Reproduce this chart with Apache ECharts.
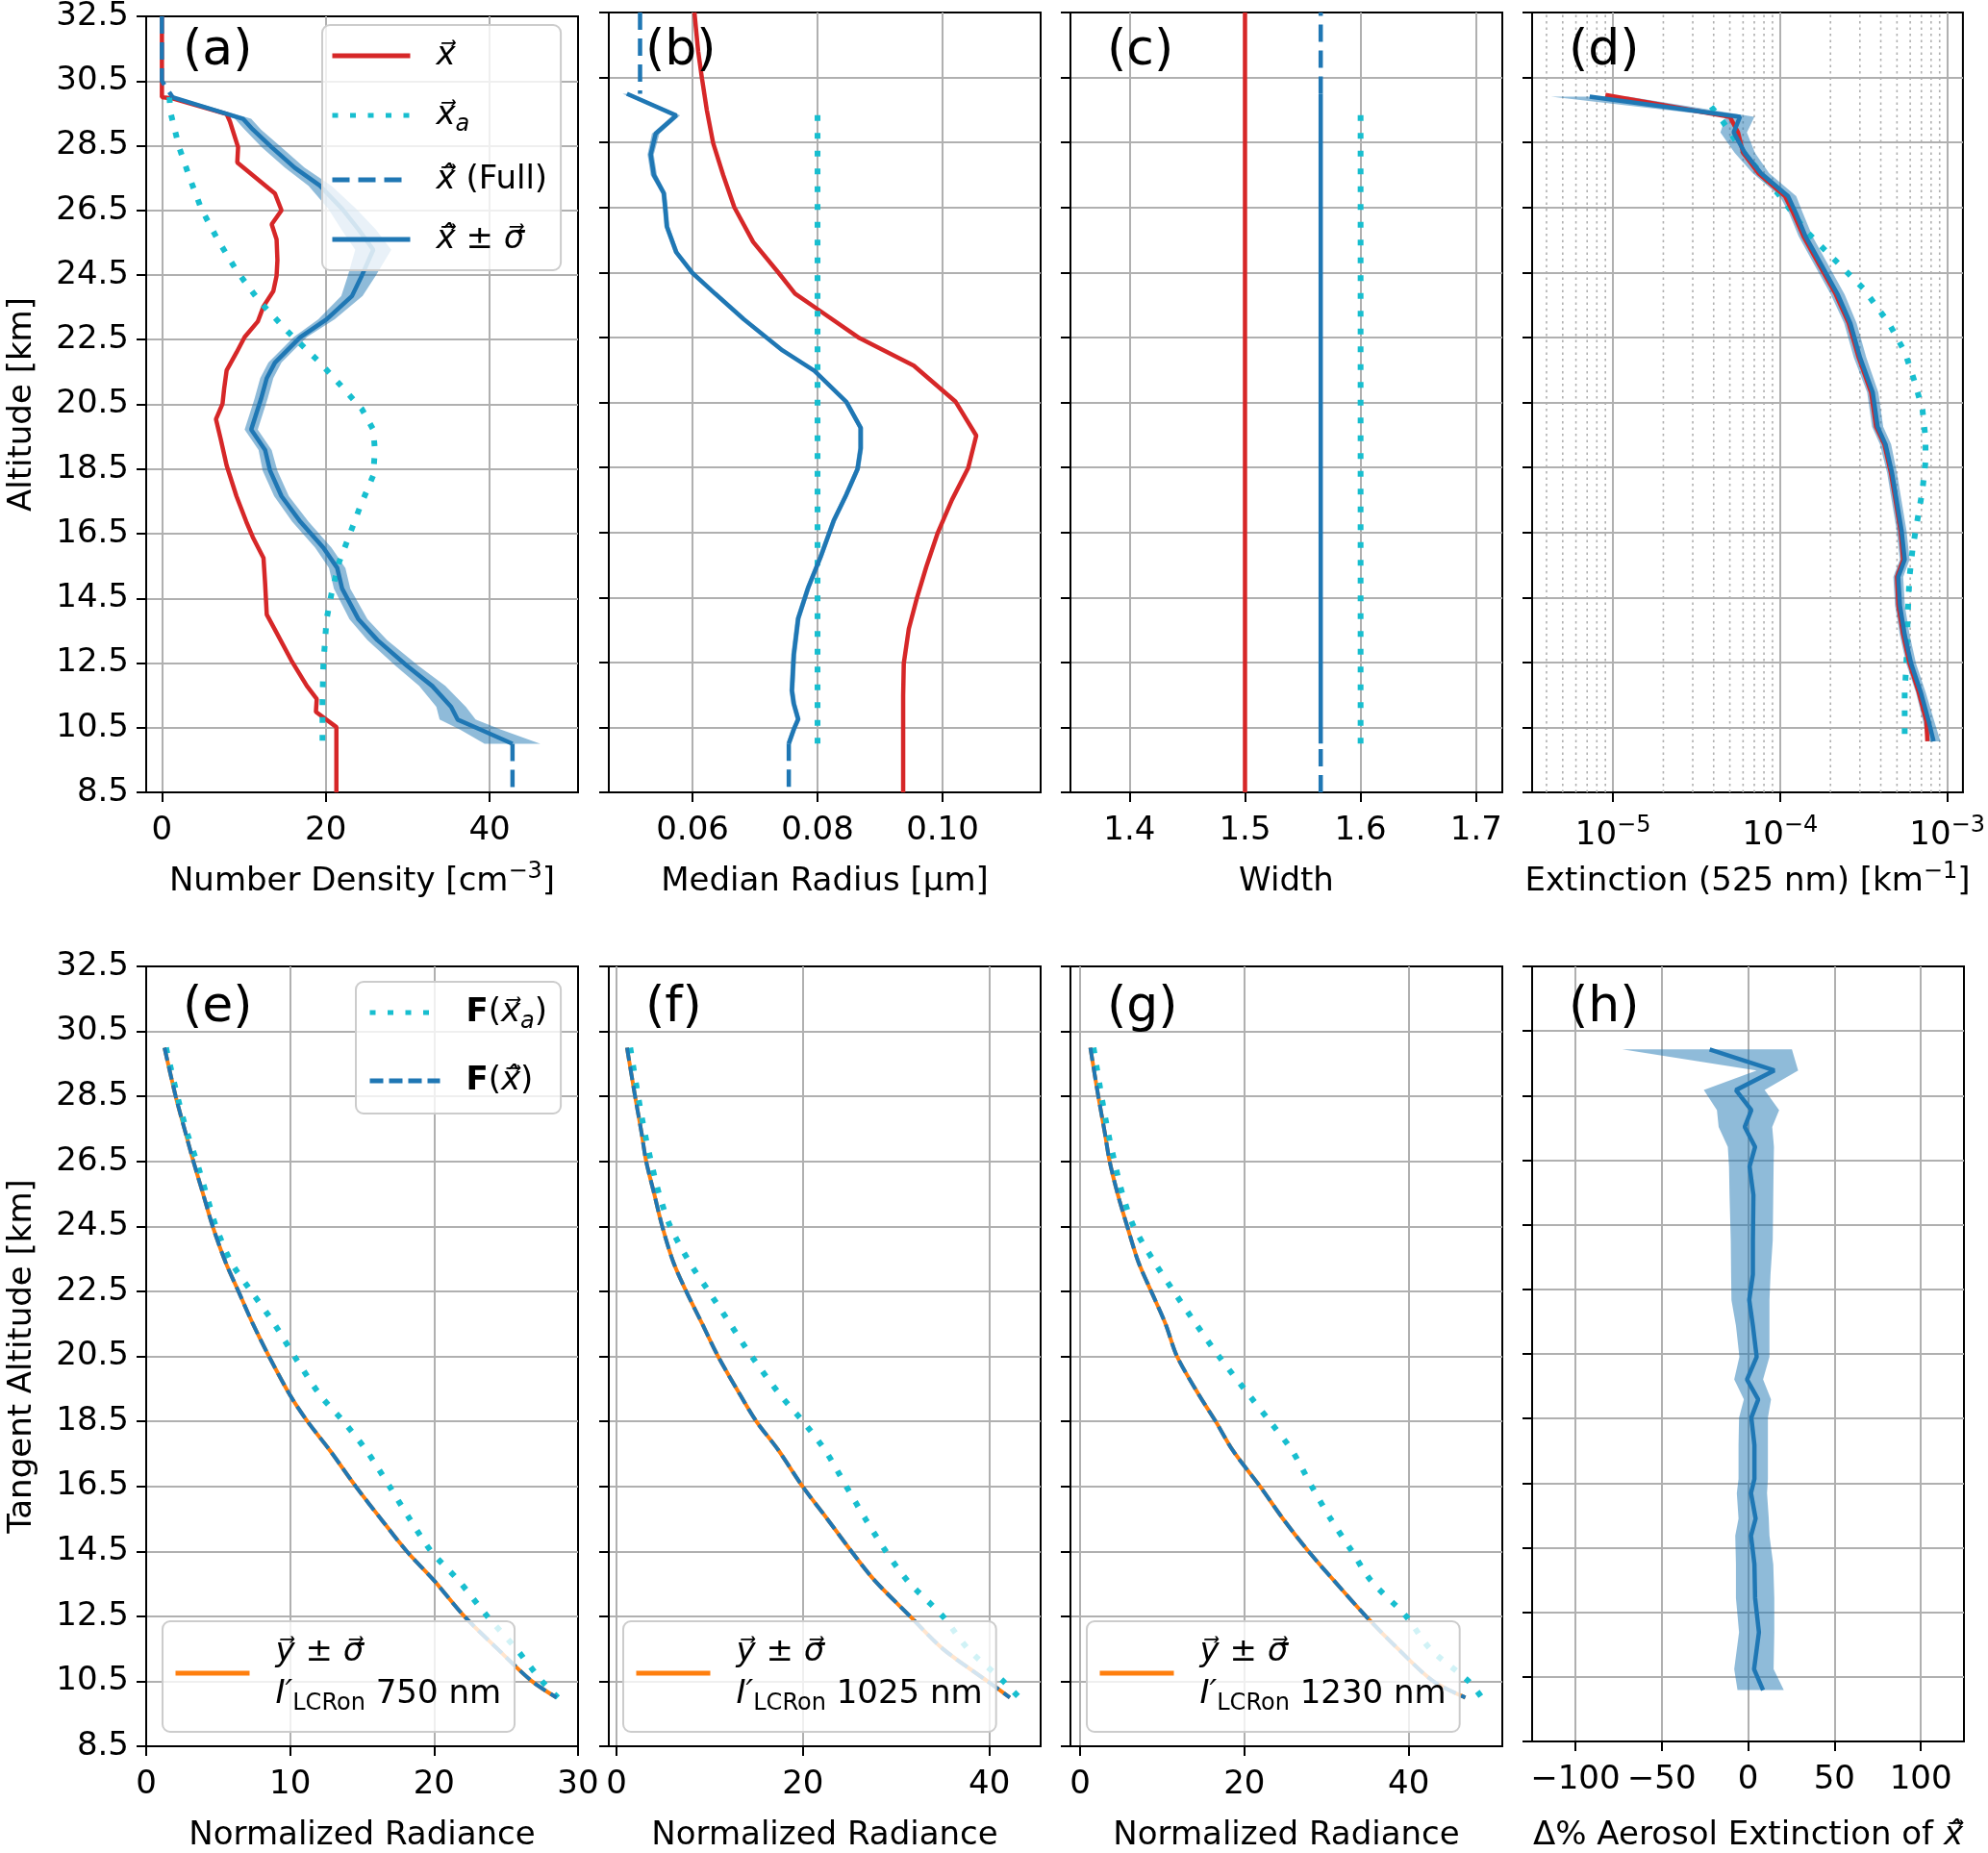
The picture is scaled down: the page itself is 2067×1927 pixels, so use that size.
<!DOCTYPE html>
<html><head><meta charset="utf-8">
<script src="https://cdn.jsdelivr.net/npm/echarts@6/dist/echarts.min.js"></script>
<style>html,body{margin:0;padding:0;background:#fff}#c{width:2067px;height:1927px}</style>
</head><body><div id="c"></div>
<script>
// ===================== DATA =====================
// Panel (a) number density [cm^-3]
const ndTrueAlt = [32.5,30.0,29.96,29.48,29.25,28.45,27.98,27.02,26.5,26.07,25.6,24.96,24.48,24.0,23.53,23.06,22.58,22.1,21.55,20.99,20.52,20.04,19.4,18.61,17.66,16.87,16.39,15.75,14.96,14.0,13.53,12.58,11.79,11.39,10.99,10.52,8.5];
const ndTrue    = [0,0,1.3,7.9,8.3,9.3,9.2,13.8,14.6,13.4,14.0,14.1,14.0,13.6,12.4,11.7,10.1,9.1,7.9,7.6,7.4,6.6,7.2,7.9,9.1,10.3,11.1,12.4,12.6,12.8,13.8,15.8,17.7,18.9,18.8,21.3,21.3];
const ndRetAlt  = [30.0,29.33,29.0,28.45,27.82,27.26,26.55,25.91,25.28,24.48,23.85,23.13,22.58,21.79,21.31,20.67,19.72,19.09,18.45,17.66,16.87,16.07,15.44,14.8,13.85,13.21,12.42,11.79,11.15,10.75,10.44,10.0];
const ndRet     = [1.3,9.9,11.1,13.4,16.2,19.3,22.0,24.0,25.8,24.4,23.2,20.1,16.9,13.8,12.8,12.1,10.9,12.6,13.2,14.6,16.9,19.7,21.4,22.0,24.0,26.3,29.9,33.0,35.3,36.1,38.9,42.8];
const ndSig     = [0.6,1.0,1.0,1.2,1.2,1.4,1.7,2.1,2.2,1.7,1.3,1.0,0.8,0.8,0.8,0.8,0.8,0.8,0.9,0.9,1.0,1.0,1.0,1.0,1.1,1.2,1.4,1.6,1.8,2.2,2.5,3.4];
const ndFullTopAlt = [32.5,30.5,30.0], ndFullTop = [0,0,1.3];
const ndFullBotAlt = [10.0,8.5],      ndFullBot = [42.8,42.8];
const ndApAlt = [30.0,29.48,28.45,27.5,26.55,25.6,24.64,23.69,22.74,21.79,21.15,20.36,19.72,19.09,18.3,17.34,16.39,15.6,14.64,13.85,12.42,11.31,10.0];
const ndAp    = [0.9,1.1,2.1,3.4,4.8,6.8,9.1,11.9,15.4,19.3,21.6,24.4,25.8,26.0,25.8,24.2,22.8,21.6,20.7,20.1,19.7,19.6,19.6];

// Panel (b) median radius [um]
const rTrueAlt = [32.5,31.31,30.48,29.48,28.48,27.5,26.5,25.44,24.48,23.85,23.37,22.48,21.63,20.52,19.48,18.48,17.5,16.47,15.44,14.48,13.53,12.47,11.47,8.5];
const rTrue    = [0.0603,0.0609,0.0615,0.0623,0.0633,0.0649,0.0667,0.0697,0.0738,0.0764,0.0800,0.0867,0.0954,0.1021,0.1054,0.1041,0.1015,0.0992,0.0974,0.0959,0.0946,0.0938,0.0937,0.0937];
const rRetAlt  = [30.0,29.33,28.77,28.13,27.5,26.94,26.55,25.91,25.12,24.48,23.85,23.06,22.1,21.47,20.52,19.72,19.09,18.45,17.66,16.87,15.75,14.8,13.85,12.74,11.63,11.23,10.75,10.44,10.0];
const rRet     = [0.0495,0.0574,0.0541,0.0533,0.0538,0.0554,0.0556,0.0559,0.0574,0.0600,0.0636,0.0682,0.0744,0.0795,0.0846,0.0869,0.0869,0.0864,0.0846,0.0826,0.0805,0.0785,0.0769,0.0762,0.0759,0.0762,0.0769,0.0762,0.0754];
const rSig     = [0.0007,0.0006,0.0006,0.0005,0.0005,0.0004,0.0004,0.0004,0.0004,0.0003,0.0003,0.0003,0.0003,0.0003,0.0004,0.0004,0.0004,0.0004,0.0004,0.0004,0.0004,0.0004,0.0004,0.0004,0.0004,0.0004,0.0004,0.0004,0.0004];
const rFullTopAlt = [32.5,30.0], rFullTop = [0.0516,0.0516];
const rFullBotAlt = [10.0,8.5],  rFullBot = [0.0754,0.0754];
const rApAlt = [10.0,29.5], rAp = [0.08,0.08];

// Panel (c) width
const wTrueAlt = [8.5,32.5], wTrue = [1.5,1.5];
const wRetAlt  = [10.0,30.0], wRet = [1.5655,1.5655];
const wFullTopAlt = [30.0,32.5], wFullTop = [1.5655,1.5655];
const wFullBotAlt = [8.5,10.0],  wFullBot = [1.5655,1.5655];
const wApAlt = [10.0,29.5], wAp = [1.6,1.6];

// Panel (d) extinction 525 nm [km^-1]
const eRetAlt = [29.91,29.29,28.81,28.18,27.56,26.85,26.32,25.61,24.72,23.83,22.94,21.88,20.81,19.75,19.21,18.33,17.44,16.55,15.66,15.13,14.24,13.35,12.46,11.58,10.69,10.07];
const eRet    = [7.25e-6,5.75e-5,5.27e-5,6.15e-5,7.66e-5,1.114e-4,1.244e-4,1.419e-4,1.77e-4,2.207e-4,2.63e-4,3.006e-4,3.58e-4,3.83e-4,4.27e-4,4.67e-4,4.99e-4,5.33e-4,5.56e-4,5.09e-4,5.21e-4,5.56e-4,6.08e-4,6.94e-4,7.74e-4,8.28e-4];
const eRetFac = [1.7,1.22,1.2,1.15,1.12,1.12,1.1,1.1,1.1,1.1,1.09,1.09,1.08,1.08,1.08,1.07,1.07,1.07,1.07,1.07,1.07,1.07,1.07,1.07,1.08,1.1];
const eTrueAlt = [29.96,29.29,28.81,28.18,27.56,26.85,26.32,25.61,24.72,23.83,22.94,21.88,20.81,19.75,19.21,18.33,17.44,16.55,15.66,15.13,14.24,13.35,12.46,11.58,10.69,10.07];
const eTrue    = [9.0e-6,5.0e-5,5.6e-5,6.0e-5,7.4e-5,1.07e-4,1.20e-4,1.38e-4,1.72e-4,2.15e-4,2.57e-4,2.95e-4,3.50e-4,3.75e-4,4.20e-4,4.60e-4,4.92e-4,5.25e-4,5.45e-4,5.0e-4,5.1e-4,5.45e-4,5.95e-4,6.75e-4,7.5e-4,7.6e-4];
const eApAlt = [29.6,29.16,28.27,27.56,26.85,25.79,24.9,24.01,22.94,22.06,21.17,20.28,19.39,18.68,17.79,16.91,16.02,15.13,14.06,12.46,11.58,10.0];
const eAp    = [3.87e-5,4.52e-5,5.88e-5,7.66e-5,9.98e-5,1.42e-4,2.11e-4,3.14e-4,4.47e-4,5.56e-4,6.35e-4,7.10e-4,7.41e-4,7.41e-4,7.10e-4,6.64e-4,6.21e-4,5.94e-4,5.81e-4,5.69e-4,5.56e-4,5.56e-4];
const extMinorTicks = [4e-6,5e-6,6e-6,7e-6,8e-6,9e-6,2e-5,3e-5,4e-5,5e-5,6e-5,7e-5,8e-5,9e-5,2e-4,3e-4,4e-4,5e-4,6e-4,7e-4,8e-4,9e-4];

// Panels (e)-(g) normalized radiance vs tangent altitude
const tanAlt    = [30.0,28.5,27.4,26.5,25.5,24.5,23.4,22.5,21.5,20.5,19.3,18.5,17.6,16.5,15.5,14.5,13.6,12.5,11.5,10.5,10.0];
const rad750    = [1.27,2.05,2.72,3.28,3.95,4.62,5.51,6.41,7.41,8.53,10.0,11.2,12.77,14.55,16.3,18.1,20.0,22.1,24.4,26.8,28.5];
const rad750Ap  = [1.38,2.17,2.83,3.5,4.17,4.84,5.9,7.3,8.9,10.3,12.1,13.7,15.3,16.9,18.3,19.8,21.7,23.7,25.7,27.5,28.6];
const rad1025   = [1.13,2.0,2.68,3.19,4.05,4.91,6.1,7.48,9.2,10.9,13.3,15.0,17.4,19.95,22.6,25.2,27.7,31.5,35.0,39.8,42.2];
const rad1025Ap = [1.48,2.33,3.02,3.7,4.57,5.77,7.83,9.9,12.2,14.5,17.6,20.0,22.4,24.65,26.7,28.9,31.2,35.0,37.7,41.5,43.2];
const rad1230   = [1.25,2.22,3.0,3.6,4.57,5.74,7.1,8.66,10.4,11.8,14.5,16.5,18.6,21.9,24.7,27.8,30.9,34.8,38.7,43.0,46.9];
const rad1230Ap = [1.64,2.61,3.4,4.18,5.15,6.52,9.05,11.4,14.1,16.9,20.6,23.1,25.8,28.2,30.5,33.1,35.4,39.7,42.6,47.3,48.9];

// Panel (h) delta % extinction
const dAlt  = [29.93,29.28,28.67,28.05,27.53,26.91,26.3,25.42,24.01,22.96,22.17,21.38,20.41,19.71,19.09,18.53,17.68,16.63,16.19,15.4,14.87,13.99,12.94,11.88,10.74,10.09];
const dPct  = [-22.2,15.2,-7.0,1.9,-1.9,4.1,0.9,3.1,2.8,2.8,0.7,2.8,5.0,-0.6,5.9,1.9,3.7,3.7,1.7,4.4,1.7,3.7,4.1,6.3,3.5,8.7];
const dLow  = [-72.8,5,-25.6,-18,-17,-11.7,-11,-10.7,-10,-9.8,-9.6,-7,-5,-8,-2.4,-5.2,-5.5,-5.5,-6.5,-5.5,-7.4,-7,-7,-5.2,-8,-6.1];
const dHigh = [25.4,29,9.6,18,14,15,14.8,14.6,14.3,13,12.4,12.4,12.4,8.7,13.3,11.5,11.5,11.5,11,12,12.4,14.6,15.2,15.2,14.8,20.7];

// Tick label values
const ticksA = [0,20,40];
const ticksB = [0.06,0.08,0.10];
const ticksC = [1.4,1.5,1.6,1.7];
const ticksF = [0,20,40];
const ticksG = [0,20,40];
const ticksH = [-100,-50,0,50,100];

// ===================== STYLE / BUILD =====================
const FONT = 'DejaVu Sans';
const RED='#d62728', CYAN='#17becf', BLUE='#1f77b4', ORANGE='#ff7f0e', BAND='rgba(31,119,180,0.5)';
const DOT=[6,12.5], DASH=[18,9], DASH2=[14,6];
const FS = 34;

const rich = {
  n:   {fontFamily:FONT, fontSize:FS, color:'#000', lineHeight:44, verticalAlign:'middle'},
  v:   {fontFamily:FONT, fontSize:FS, color:'#000', fontStyle:'italic', lineHeight:44, verticalAlign:'middle'},
  bf:  {fontFamily:FONT, fontSize:FS, color:'#000', fontWeight:'bold', lineHeight:44, verticalAlign:'middle'},
  sub: {fontFamily:FONT, fontSize:24, color:'#000', fontStyle:'italic', lineHeight:16, verticalAlign:'bottom'},
  subr:{fontFamily:FONT, fontSize:24, color:'#000', lineHeight:16, verticalAlign:'bottom'},
  sup: {fontFamily:FONT, fontSize:24, color:'#000', lineHeight:22, verticalAlign:'top'},
  sp:  {width:22}
};

const pairs = (xs, ys) => xs.map((x,i)=>[x, ys[i]]);
function line(name, gi, xs, ys, color, width, type, smooth){
  return {type:'line', name, xAxisIndex:gi, yAxisIndex:gi, data:pairs(xs, ys), symbol:'none', showSymbol:false,
    smooth: smooth || false,
    silent:true, animation:false, lineStyle:{color, width, type: type||'solid', cap:'butt'}, itemStyle:{color}};
}
function band(gi, lows, highs, alts){
  return {type:'custom', xAxisIndex:gi, yAxisIndex:gi, silent:true, animation:false,
    data: alts.map((a,i)=>[lows[i], a]),
    renderItem: function(params, api){
      if (params.dataIndex !== 0) return null;
      const pts = [];
      for (let i=0;i<alts.length;i++) pts.push(api.coord([lows[i], alts[i]]));
      for (let i=alts.length-1;i>=0;i--) pts.push(api.coord([highs[i], alts[i]]));
      return {type:'polygon', shape:{points:pts}, style:{fill:BAND, stroke:null}};
    }};
}

const gl = [152, 633, 1113, 1593];
const grids = [];
for (let r=0;r<2;r++) for (let c=0;c<4;c++)
  grids.push({left:gl[c], top: r?1005:13, width:449, height: r?812:811, show:true, borderColor:'#000', borderWidth:2, backgroundColor:'rgba(0,0,0,0)'});

const axisLine = {show:true, onZero:false, lineStyle:{color:'#000', width:2}};
const tickBase = {show:true, length:10, lineStyle:{color:'#000', width:2}};
const splitEdgeOff = {show:true, showMinLine:false, showMaxLine:false, lineStyle:{color:'#b0b0b0', width:2}};
const splitEdgeOn  = {show:true, showMinLine:true, showMaxLine:true, lineStyle:{color:'#b0b0b0', width:2}};
const nameStyle = {fontFamily:FONT, fontSize:FS, color:'#000', rich};

const yAxes = [];
for (let i=0;i<8;i++){
  const first = (i%4===0);
  yAxes.push({type:'value', gridIndex:i, min:8.5, max:32.5, interval:2,
    axisLine, axisTick:tickBase, splitLine:splitEdgeOff,
    axisLabel:{show:first, margin:18, fontFamily:FONT, fontSize:FS, color:'#000', formatter:v=>v.toFixed(1)},
    name: first ? (i===0?'Altitude [km]':'Tangent Altitude [km]') : '',
    nameLocation:'middle', nameGap:112, nameRotate:90, nameTextStyle:nameStyle});
}
function xAx(i, min, max, name, extra){
  const ax = {type:'value', gridIndex:i, min, max, axisLine, axisTick:Object.assign({}, tickBase),
    splitLine: extra.ticks ? splitEdgeOn : splitEdgeOff,
    axisLabel:{margin:23, fontFamily:FONT, fontSize:FS, color:'#000', rich},
    name, nameLocation:'middle', nameGap: extra.gap || 71, nameTextStyle:nameStyle};
  if (extra.ticks){ ax.axisTick.customValues = extra.ticks; ax.axisLabel.customValues = extra.ticks; }
  if (extra.interval) ax.interval = extra.interval;
  if (extra.fmt) ax.axisLabel.formatter = extra.fmt;
  if (extra.log){ ax.type='log'; ax.logBase=10; ax.axisLabel.showMinLabel=false; ax.axisLabel.showMaxLabel=false; }
  return ax;
}
const minusFmt = v => v<0 ? '\u2212'+Math.abs(v) : String(v);
const xAxes = [
  xAx(0, -1.92, 50.8, '{n|Number Density [cm}{sup|\u22123}{n|]}', {ticks:ticksA}),
  xAx(1, 0.0466, 0.1157, '{n|Median Radius [\u00b5m]}', {ticks:ticksB, fmt:v=>v.toFixed(2)}),
  xAx(2, 1.349, 1.7226, '{n|Width}', {ticks:ticksC, fmt:v=>v.toFixed(1)}),
  xAx(3, 3.28e-6, 1.24e-3, '{n|Extinction (525 nm) [km}{sup|\u22121}{n|]}', {log:true, fmt:v=>{const e=Math.round(Math.log10(v)); return '{n|10}{sup|\u2212'+Math.abs(e)+'}';}}),
  xAx(4, 0, 30, '{n|Normalized Radiance}', {interval:10}),
  xAx(5, -0.82, 45.5, '{n|Normalized Radiance}', {ticks:ticksF}),
  xAx(6, -1.17, 51.4, '{n|Normalized Radiance}', {ticks:ticksG}),
  xAx(7, -125, 125, '{n|\u0394% Aerosol Extinction of }{v|x\u0302\u20d7}', {ticks:ticksH, fmt:minusFmt, gap:76})
];

const LW = 4.5;
const series = [];
// (a)
series.push(line('x_true', 0, ndTrue, ndTrueAlt, RED, LW));
series.push(line('x_ap', 0, ndAp, ndApAlt, CYAN, 6, DOT));
series.push(band(0, ndRet.map((v,i)=>v-ndSig[i]), ndRet.map((v,i)=>v+ndSig[i]), ndRetAlt));
series.push(line('x_full', 0, ndFullTop, ndFullTopAlt, BLUE, LW, DASH));
series.push(line('x_full', 0, ndFullBot, ndFullBotAlt, BLUE, LW, DASH));
series.push(line('x_hat', 0, ndRet, ndRetAlt, BLUE, LW));
// (b)
series.push(line('b_true', 1, rTrue, rTrueAlt, RED, LW));
series.push(line('b_ap', 1, rAp, rApAlt, CYAN, 6, DOT));
series.push(band(1, rRet.map((v,i)=>v-rSig[i]), rRet.map((v,i)=>v+rSig[i]), rRetAlt));
series.push(line('b_full', 1, rFullTop, rFullTopAlt, BLUE, LW, DASH));
series.push(line('b_full', 1, rFullBot, rFullBotAlt, BLUE, LW, DASH));
series.push(line('b_hat', 1, rRet, rRetAlt, BLUE, LW));
// (c)
series.push(line('c_true', 2, wTrue, wTrueAlt, RED, LW));
series.push(line('c_ap', 2, wAp, wApAlt, CYAN, 6, DOT));
series.push(line('c_full', 2, wFullTop, wFullTopAlt, BLUE, LW, DASH));
series.push(line('c_full', 2, wFullBot, wFullBotAlt, BLUE, LW, DASH));
series.push(line('c_hat', 2, wRet, wRetAlt, BLUE, LW));
// (d)
series.push({type:'custom', xAxisIndex:3, yAxisIndex:3, silent:true, animation:false,
  data: extMinorTicks.map(v=>[v, 8.5]),
  renderItem: function(params, api){
    const v = api.value(0);
    const p1 = api.coord([v, 8.5]), p2 = api.coord([v, 32.5]);
    return {type:'line', shape:{x1:p1[0], y1:p1[1], x2:p2[0], y2:p2[1]}, style:{stroke:'#b0b0b0', lineWidth:1.6, lineDash:[2.5,4]}};
  }});
series.push(line('d_ap', 3, eAp, eApAlt, CYAN, 6, DOT));
series.push(line('d_true', 3, eTrue, eTrueAlt, RED, LW));
series.push(band(3, eRet.map((v,i)=>v/eRetFac[i]), eRet.map((v,i)=>v*eRetFac[i]), eRetAlt));
series.push(line('d_hat', 3, eRet, eRetAlt, BLUE, LW));
// (e)-(g)
const radSets = [[rad750, rad750Ap, 'e'], [rad1025, rad1025Ap, 'f'], [rad1230, rad1230Ap, 'g']];
radSets.forEach((s, k) => {
  const gi = 4 + k;
  series.push(line('y_'+s[2], gi, s[0], tanAlt, ORANGE, 4, 'solid', 0.3));
  series.push(line('Fxa_'+s[2], gi, s[1], tanAlt, CYAN, 6, DOT, 0.3));
  series.push(line('Fxhat_'+s[2], gi, s[0], tanAlt, BLUE, 4, DASH2, 0.3));
});
// (h)
series.push(band(7, dLow, dHigh, dAlt));
series.push(line('h_line', 7, dPct, dAlt, BLUE, LW));

// Legends
const legendText = {
  x_true: '{sp| }{v|x\u20d7}',
  x_ap:   '{sp| }{v|x\u20d7}{sub|a}',
  x_full: '{sp| }{v|x\u0302\u20d7}{n| (Full)}',
  x_hat:  '{sp| }{v|x\u0302\u20d7}{n| \u00b1 }{v|\u03c3\u20d7}',
  Fxa_e:  '{sp| }{bf|F}{n|(}{v|x\u20d7}{sub|a}{n|)}',
  Fxhat_e:'{sp| }{bf|F}{n|(}{v|x\u0302\u20d7}{n|)}',
  y_e: '{sp| }{v|y\u20d7}{n| \u00b1 }{v|\u03c3\u20d7}\n{sp| }{v|I\u2032}{subr|LCRon}{n| 750 nm}',
  y_f: '{sp| }{v|y\u20d7}{n| \u00b1 }{v|\u03c3\u20d7}\n{sp| }{v|I\u2032}{subr|LCRon}{n| 1025 nm}',
  y_g: '{sp| }{v|y\u20d7}{n| \u00b1 }{v|\u03c3\u20d7}\n{sp| }{v|I\u2032}{subr|LCRon}{n| 1230 nm}'
};
function legend(data, left, top, padding, gap, itemWidth){
  return {data, left, top, orient:'vertical', padding, itemGap:gap, itemWidth, itemHeight:14,
    selectedMode:false, formatter:n=>legendText[n],
    textStyle:{fontFamily:FONT, fontSize:FS, color:'#000', rich},
    backgroundColor:'rgba(255,255,255,0.8)', borderColor:'#cccccc', borderWidth:2, borderRadius:8,
    lineStyle:{width:5}, itemStyle:{opacity:0}};
}
const legends = [
  legend(['x_true','x_ap','x_full','x_hat'], 335, 26, [15,14,15,8], 28, 81),
  legend(['Fxa_e','Fxhat_e'], 370, 1021, [15,14,17,12], 32, 73),
  legend(['y_e'], 169, 1686, [15,14,17,11], 0, 77),
  legend(['y_f'], 648, 1686, [15,14,17,11], 0, 77),
  legend(['y_g'], 1130, 1686, [15,14,17,11], 0, 77)
];

const letters = ['(a)','(b)','(c)','(d)','(e)','(f)','(g)','(h)'];
const titles = letters.map((t,i)=>({text:t, left: gl[i%4]+38, top: i<4 ? 23 : 1018, padding:0,
  textStyle:{fontFamily:FONT, fontSize:52, fontWeight:'normal', color:'#000', lineHeight:60}}));

const chart = echarts.init(document.getElementById('c'), null, {renderer:'canvas'});
chart.setOption({
  animation:false, backgroundColor:'#fff',
  textStyle:{fontFamily:FONT},
  title: titles, grid: grids, xAxis: xAxes, yAxis: yAxes, legend: legends, series
});
</script></body></html>
